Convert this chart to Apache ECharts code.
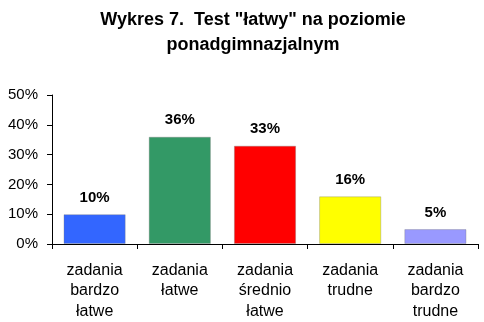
<!DOCTYPE html>
<html><head><meta charset="utf-8">
<script src="https://cdn.jsdelivr.net/npm/echarts@6/dist/echarts.min.js"></script>
<style>html,body{margin:0;padding:0;background:#fff}#c{width:484px;height:322px}</style>
</head><body><div id="c"></div>
<script>
var titleText = 'Wykres 7.  Test "łatwy" na poziomie\nponadgimnazjalnym';
var categories = ['zadania\nbardzo\nłatwe', 'zadania\nłatwe', 'zadania\nśrednio\nłatwe', 'zadania\ntrudne', 'zadania\nbardzo\ntrudne'];
var values = [10, 36, 33, 16, 5];
var colors = ['#3366FF', '#339966', '#FF0000', '#FFFF00', '#9999FF'];
var yTicks = [0, 10, 20, 30, 40, 50];

var chart = echarts.init(document.getElementById('c'), null, {renderer: 'canvas'});
chart.setOption({
  animation: false,
  title: {
    text: titleText, left: 248, top: 3, textAlign: 'center',
    textStyle: {fontFamily: 'Liberation Sans', fontWeight: 'bold', fontSize: 18, color: '#000', lineHeight: 25}
  },
  grid: {left: 52, right: 6, top: 95, bottom: 78, containLabel: false},
  xAxis: {
    type: 'category', data: categories,
    axisLine: {lineStyle: {color: '#000', width: 1}},
    axisTick: {show: true, alignWithLabel: false, length: 5, lineStyle: {color: '#000'}},
    axisLabel: {fontFamily: 'Liberation Sans', fontSize: 16, color: '#000', lineHeight: 20.5, margin: 16, interval: 0}
  },
  yAxis: {
    type: 'value', min: yTicks[0], max: yTicks[yTicks.length - 1], interval: 10,
    axisLine: {show: true, lineStyle: {color: '#000'}},
    axisTick: {show: true, length: 5, lineStyle: {color: '#000'}},
    splitLine: {show: false},
    axisLabel: {fontFamily: 'Liberation Sans', fontSize: 15, color: '#000', margin: 14, formatter: '{value}%'}
  },
  series: [{
    type: 'bar', barWidth: '73%',
    data: values.map(function (v, i) {
      return {value: v, itemStyle: {color: colors[i], borderColor: 'rgba(120,120,120,0.35)', borderWidth: 1}};
    }),
    label: {show: true, position: 'top', distance: 9, formatter: '{c}%', fontFamily: 'Liberation Sans', fontWeight: 'bold', fontSize: 15, color: '#000'}
  }]
});
</script></body></html>
